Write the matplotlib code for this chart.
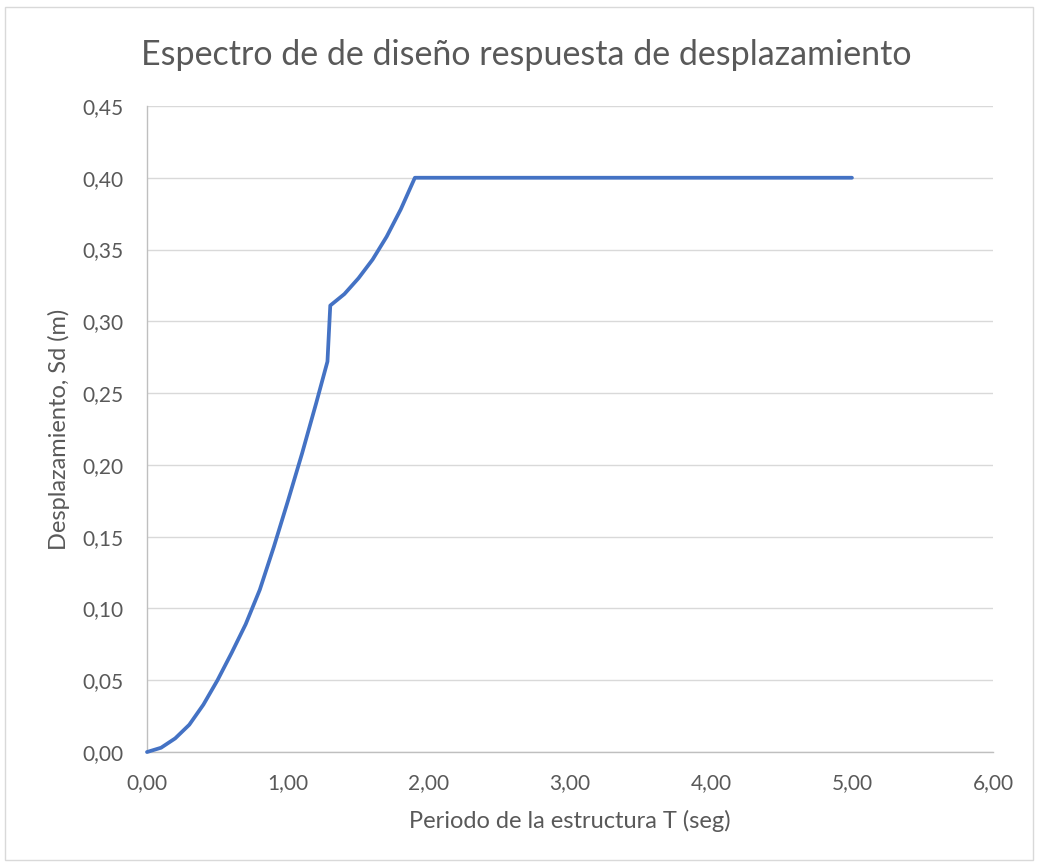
import matplotlib
matplotlib.use("Agg")
import matplotlib.pyplot as plt
from matplotlib.patches import Rectangle
from matplotlib.ticker import FuncFormatter, MultipleLocator

plt.rcParams['font.family'] = ['Lato', 'DejaVu Sans']

# Periodo T (seg) y desplazamiento Sd (m)
periodo = [0.0, 0.1, 0.2, 0.3, 0.4, 0.5, 0.6, 0.7, 0.8, 0.9, 1.0, 1.1, 1.2,
           1.28, 1.30, 1.4, 1.5, 1.6, 1.7, 1.8, 1.9,
           2.0, 2.5, 3.0, 3.5, 4.0, 4.5, 5.0]
desplazamiento = [0.0, 0.003, 0.0095, 0.019, 0.033, 0.050, 0.069, 0.089, 0.113,
                  0.143, 0.175, 0.208, 0.243,
                  0.272, 0.311, 0.319, 0.330, 0.343, 0.359, 0.378, 0.400,
                  0.400, 0.400, 0.400, 0.400, 0.400, 0.400, 0.400]

titulo = "Espectro de de diseño respuesta de desplazamiento"
xlabel = "Periodo de la estructura T (seg)"
ylabel = "Desplazamiento, Sd (m)"

text_color = '#595959'
grid_color = '#D9D9D9'

fig = plt.figure(figsize=(10.38, 8.65), dpi=100)
ax = fig.add_axes([0.1416, 0.1306, 0.8150, 0.7469])

ax.plot(periodo, desplazamiento, color='#4472C4', linewidth=2.7,
        solid_joinstyle='round', solid_capstyle='round', clip_on=False, zorder=3)

ax.set_xlim(0, 6)
ax.set_ylim(0, 0.45)
ax.xaxis.set_major_locator(MultipleLocator(1))
ax.yaxis.set_major_locator(MultipleLocator(0.05))
coma = FuncFormatter(lambda v, p: f"{v:.2f}".replace('.', ','))
ax.xaxis.set_major_formatter(coma)
ax.yaxis.set_major_formatter(coma)

ax.grid(True, axis='y', color=grid_color, linewidth=1.0)
ax.set_axisbelow(True)
for s in ['top', 'right']:
    ax.spines[s].set_visible(False)
for s in ['left', 'bottom']:
    ax.spines[s].set_color('#BFBFBF')
    ax.spines[s].set_linewidth(1.0)

ax.tick_params(axis='both', length=0, labelsize=15, colors=text_color)
ax.tick_params(axis='y', pad=17)
ax.tick_params(axis='x', pad=15)

ax.set_xlabel(xlabel, fontsize=17, color=text_color, labelpad=12)
ax.set_ylabel(ylabel, fontsize=17, color=text_color, labelpad=9)

fig.text(0.507, 0.936, titulo, ha='center', va='center', fontsize=24.5,
         color=text_color)

fig.patches.append(Rectangle((0.005, 0.006), 0.99, 0.986, transform=fig.transFigure,
                             fill=False, edgecolor='#D9D9D9', linewidth=1.0))

fig.savefig('out.png', dpi=100)
